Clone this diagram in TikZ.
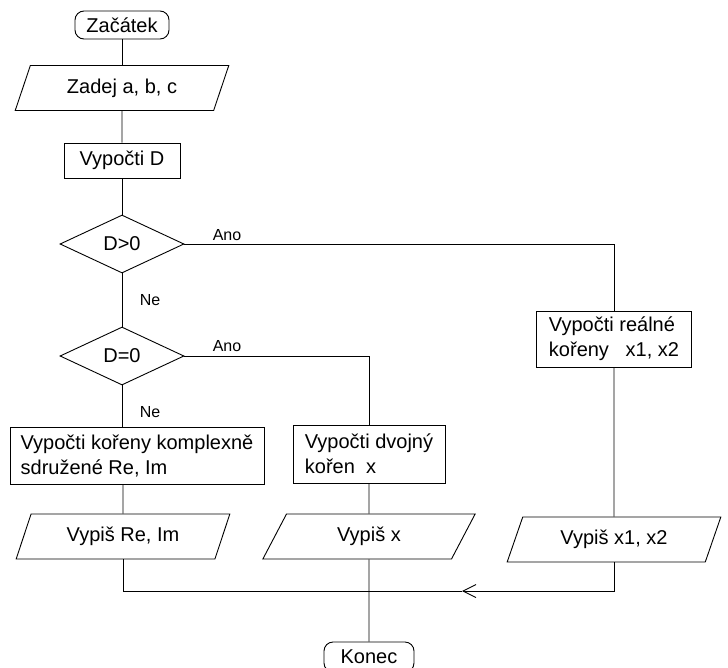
\documentclass[tikz,border=0pt]{standalone}
\usepackage{fontspec}
\setmainfont{Liberation Sans}
\usetikzlibrary{shapes.geometric,arrows.meta}

\begin{document}
\begin{tikzpicture}[x=1pt,y=-1pt,line width=0.9pt,
    box/.style={draw,rectangle,font=\fontsize{20}{25}\selectfont,inner sep=0pt},
    term/.style={box,rounded corners=9pt},
    io/.style={draw,trapezium,trapezium left angle=64,trapezium right angle=116,
      trapezium stretches=true,minimum width=214pt,minimum height=45pt,
      font=\fontsize{20}{25}\selectfont,inner sep=0pt},
    cond/.style={draw,diamond,minimum width=124pt,minimum height=58pt,
      font=\fontsize{20}{25}\selectfont,inner sep=0pt},
    lbl/.style={font=\fontsize{16}{18}\selectfont,inner sep=0pt}]
  \useasboundingbox (0,0) rectangle (728,667);

  %%%%%%%%%%%%%%%%%%%%%%%%%%%%%%%%%%%%%%%%%%%%%%%%%%%%%%%%%%%%%%%%%%%%%%%%%%%
  %%%%  Left column
  \node[term,minimum width=94pt,minimum height=28pt] (zacatek) at (122,25) {Začátek};
  \node[io] (zadej) at (122,88) {Zadej a, b, c};
  \node[box,minimum width=116pt,minimum height=35pt] (vypoctiD) at (122,160.5) {Vypočti D};
  \node[cond] (gt) at (122,244) {D>0};
  \node[cond] (eq) at (122,356) {D=0};
  \node[box,align=left,minimum width=254pt,minimum height=57pt] (komplex)
    at (137,455.5) {Vypočti kořeny komplexně\\sdružené Re, Im};
  \node[io] (vypisRe) at (123,536.5) {Vypiš Re, Im};

  %%%%%%%%%%%%%%%%%%%%%%%%%%%%%%%%%%%%%%%%%%%%%%%%%%%%%%%%%%%%%%%%%%%%%%%%%%%
  %%%%  Middle and right columns
  \node[box,align=left,minimum width=152pt,minimum height=58pt] (dvojny)
    at (369,454) {Vypočti dvojný\\kořen\ \ x};
  \node[io] (vypisX) at (369,536.5) {Vypiš x};
  \node[term,minimum width=90pt,minimum height=30pt] (konec) at (369,657) {Konec};
  \node[box,align=left,minimum width=155pt,minimum height=56pt] (realne)
    at (614,339) {Vypočti reálné\\kořeny\ \ \ x1, x2};
  \node[io] (vypisX12) at (614,539.5) {Vypiš x1, x2};

  % labels
  \node[lbl] (ano1) at (227,235) {Ano};
  \node[lbl] (ne1) at (150,300) {Ne};
  \node[lbl] (ano2) at (227,346) {Ano};
  \node[lbl] (ne2) at (150,412) {Ne};

  %%%%%%%%%%%%%%%%%%%%%%%%%%%%%%%%%%%%%%%%%%%%%%%%%%%%%%%%%%%%%%%%%%%%%%%%%%%
  \draw (zacatek) -- (zadej);
  \draw (zadej) -- (vypoctiD);
  \draw (vypoctiD) -- (gt);
  \draw (gt) -- (eq);
  \draw (gt.east) -| (realne);
  \draw (eq.east) -| (dvojny);
  \draw (eq.south) -- (eq.south |- komplex.north);
  \draw (vypisRe.north |- komplex.south) -- (vypisRe);
  \draw (dvojny) -- (vypisX);
  \draw (realne) -- (vypisX12);
  \draw (vypisX) -- (konec);

  \coordinate (merge) at (369,591);
  \coordinate (tip) at (462,591);
  \draw (vypisRe) |- (merge);
  \draw[-{Straight Barb[length=13pt,width=13pt]}] (vypisX12) |- (tip);
  \draw (tip) -- (merge);
\end{tikzpicture}
\end{document}
